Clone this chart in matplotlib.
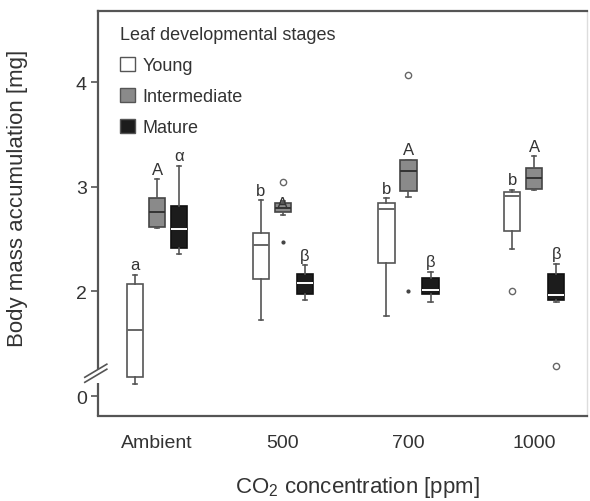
import numpy as np
import matplotlib.pyplot as plt
from matplotlib.patches import Patch
import matplotlib.transforms as mtransforms

plt.rcParams['font.family'] = ['Liberation Sans', 'DejaVu Sans']
plt.rcParams['mathtext.fontset'] = 'custom'
plt.rcParams['mathtext.rm'] = 'Liberation Sans'
plt.rcParams['mathtext.it'] = 'Liberation Sans:italic'

groups = ['Ambient', '500', '700', '1000']
stages = ['Young', 'Intermediate', 'Mature']

# values on the drawn scale; the axis is broken, tick at 1 is labelled "0"
young_lo  = [1.12, 1.73, 1.77, 2.41]
young_q1  = [1.18, 2.12, 2.27, 2.58]
young_med = [1.63, 2.44, 2.79, 2.91]
young_q3  = [2.07, 2.56, 2.845, 2.95]
young_hi  = [2.155, 2.87, 2.89, 2.97]
young_out = [[], [], [], [2.0]]
young_ext = [[], [], [], []]

inter_lo  = [2.61, 2.73, 2.90, 2.97]
inter_q1  = [2.62, 2.76, 2.96, 2.98]
inter_med = [2.76, 2.80, 3.15, 3.08]
inter_q3  = [2.89, 2.85, 3.26, 3.18]
inter_hi  = [3.07, 2.86, 3.26, 3.29]
inter_out = [[], [3.05], [4.07], []]
inter_ext = [[], [2.47], [2.0], []]

mature_lo  = [2.36, 1.92, 1.90, 1.90]
mature_q1  = [2.42, 1.98, 1.98, 1.92]
mature_med = [2.60, 2.08, 2.01, 1.965]
mature_q3  = [2.82, 2.17, 2.13, 2.17]
mature_hi  = [3.20, 2.25, 2.19, 2.26]
mature_out = [[], [], [], [1.29]]
mature_ext = [[], [], [], []]

young_letters = ['a', 'b', 'b', 'b']
inter_letters = ['A', 'A', 'A', 'A']
mature_letters = ['\u03b1', '\u03b2', '\u03b2', '\u03b2']

ytick_pos = [1, 2, 3, 4]
ytick_lab = ['0', '2', '3', '4']


def make_stats(lo, q1, med, q3, hi, out):
    return [dict(whislo=a, q1=b, med=c, q3=d, whishi=e, fliers=f)
            for a, b, c, d, e, f in zip(lo, q1, med, q3, hi, out)]


fig = plt.figure(figsize=(5.9, 5.02), dpi=100)
ax = fig.add_axes([98/590, 85/502, 489/590, 405/502])

series = [
    (make_stats(young_lo, young_q1, young_med, young_q3, young_hi, young_out),
     young_ext, young_letters, -0.175, 'white', '#555555', '#666666'),
    (make_stats(inter_lo, inter_q1, inter_med, inter_q3, inter_hi, inter_out),
     inter_ext, inter_letters, 0.0, '#8a8a8a', '#454545', '#333333'),
    (make_stats(mature_lo, mature_q1, mature_med, mature_q3, mature_hi, mature_out),
     mature_ext, mature_letters, 0.176, '#1c1c1c', '#111111', 'white'),
]

x = np.arange(len(groups))
for k, (stats, ext, letters, off, face, edge, medc) in enumerate(series):
    pos = x + off
    ax.bxp(stats, positions=pos, widths=0.13, capwidths=0.035,
           patch_artist=True, showfliers=True,
           boxprops=dict(facecolor=face, edgecolor=edge, linewidth=1.2),
           medianprops=dict(color=medc, linewidth=1.4),
           whiskerprops=dict(color='#555555', linewidth=1.2),
           capprops=dict(color='#555555', linewidth=1.2),
           flierprops=dict(marker='o', markerfacecolor='none',
                           markeredgecolor='#666666', markersize=4.5,
                           markeredgewidth=1.0))
    for i in range(len(groups)):
        for v in ext[i]:
            ax.plot(pos[i], v, marker='.', color='#444444', markersize=4)
        dy = -7 if (k == 1 and i == 1) else 2
        ax.annotate(letters[i], (pos[i], stats[i]['whishi']),
                    xytext=(0, dy), textcoords='offset points',
                    ha='center', va='bottom', fontsize=12, color='#333333')

ax.set_xlim(-0.47, 3.42)
ax.set_ylim(0.81, 4.68)
ax.set_xticks(x)
ax.set_xticklabels(groups)
ax.set_yticks(ytick_pos)
ax.set_yticklabels(ytick_lab)
ax.tick_params(axis='x', length=0, pad=13, labelsize=14, labelcolor='#333333')
ax.tick_params(axis='y', length=5, width=1.2, pad=3, labelsize=14,
               labelcolor='#333333', color='#555555')

for s in ['left', 'bottom', 'top']:
    ax.spines[s].set_color('#555555')
    ax.spines[s].set_linewidth(1.6)
ax.spines['right'].set_color('#dddddd')
ax.spines['right'].set_linewidth(1.0)

# broken left axis
ax.spines['left'].set_bounds(1.267, 4.68)
trans = mtransforms.blended_transform_factory(ax.transAxes, ax.transData)
ax.plot([0, 0], [0.81, 1.124], color='#555555', lw=1.6, transform=trans,
        clip_on=False, solid_capstyle='butt')
for d in [0.0, -0.048]:
    ax.plot([-0.027, 0.018], [1.18 + d, 1.305 + d], color='#555555', lw=1.2,
            transform=trans, clip_on=False)

ax.set_ylabel('Body mass accumulation [mg]', fontsize=16, color='#333333')
ax.yaxis.set_label_coords(-0.143, 0.54)
ax.set_xlabel('CO$_2$ concentration [ppm]', fontsize=16, color='#333333')
ax.xaxis.set_label_coords(0.53, -0.173)
ax.xaxis.label.set_va('center')

handles = [Patch(facecolor=s[4], edgecolor='#555555', linewidth=1.0) for s in series]
leg = ax.legend(handles, stages, title='Leaf developmental stages',
                loc='upper left', bbox_to_anchor=(0.045, 0.962),
                frameon=False, fontsize=13, title_fontsize=13,
                handlelength=0.85, handleheight=0.85, handletextpad=0.4,
                labelspacing=0.75, borderpad=0, borderaxespad=0,
                alignment='left')
for t in leg.get_texts():
    t.set_color('#333333')
leg.get_title().set_color('#333333')

fig.savefig('out.png', dpi=100)
